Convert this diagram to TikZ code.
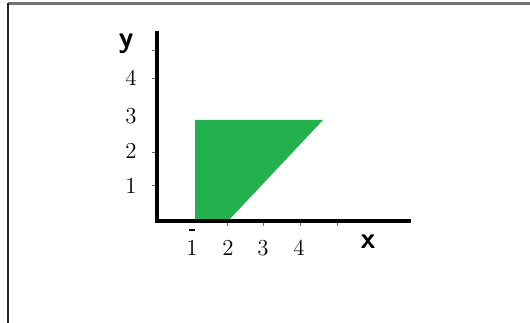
\documentclass[tikz,border=0pt]{standalone}
\usepackage{tikz}
\usetikzlibrary{positioning}
\definecolor{paintgreen}{RGB}{34,177,76}
\newcommand\AxLeft{157}
\newcommand\AxBase{221}
\tikzset{
  axis/.style={
    line width = 0.08cm,
    line cap = rect
  },
  tickmark/.style={
    line width = 0.5pt,
    color = black!60
  },
  num/.style={
    font = \fontsize{13}{15}\selectfont,
    inner sep = 0pt
  },
  varname/.style={
    font = \fontsize{17}{19}\selectfont\sffamily\bfseries,
    inner sep = 0pt
  }
}

\begin{document}
\begin{tikzpicture}[x=0.02cm,y=-0.02cm]
    \useasboundingbox (0,0) rectangle (530,323);
    % frame
    \draw[line width=1.2pt, black!55] (8,3.5) -- (530,3.5);
    \draw[line width=1pt, black!85] (8,3.5) -- (8,323);

    % shaded region
    \fill[paintgreen] (195,\AxBase) -- (195,120) -- (323,120) -- (228,\AxBase) -- cycle;

    % axes
    \coordinate (O) at (\AxLeft,\AxBase);
    \coordinate (ytop) at (\AxLeft,33);
    \coordinate (xend) at (409,\AxBase);
    \draw[axis] (ytop) -- (O) -- (xend);

    % ticks
    \foreach \ty in {50,78,152,185}
      \draw[tickmark] (\AxLeft-5,\ty) -- (\AxLeft-2,\ty);
    \foreach \tx in {227,263,300,337}
      \draw[tickmark] (\tx,\AxBase+2) -- (\tx,\AxBase+5);
    \draw[line width=0.8pt] (189,230) -- (195,230);

    % labels
    \node[num] (y4) at (131,78) {4};
    \node[num] (y3) at (131,116) {3};
    \node[num] (y2) at (131,151) {2};
    \node[num] (y1) at (131,186) {1};
    \node[num] (x1) at (192,248) {1};
    \node[num] (x2) at (228,248) {2};
    \node[num] (x3) at (263,248) {3};
    \node[num] (x4) at (299,248) {4};
    \node[varname] (ylab) at (126,44) {y};
    \node[varname] (xlab) at (368,242) {x};
\end{tikzpicture}
\end{document}
